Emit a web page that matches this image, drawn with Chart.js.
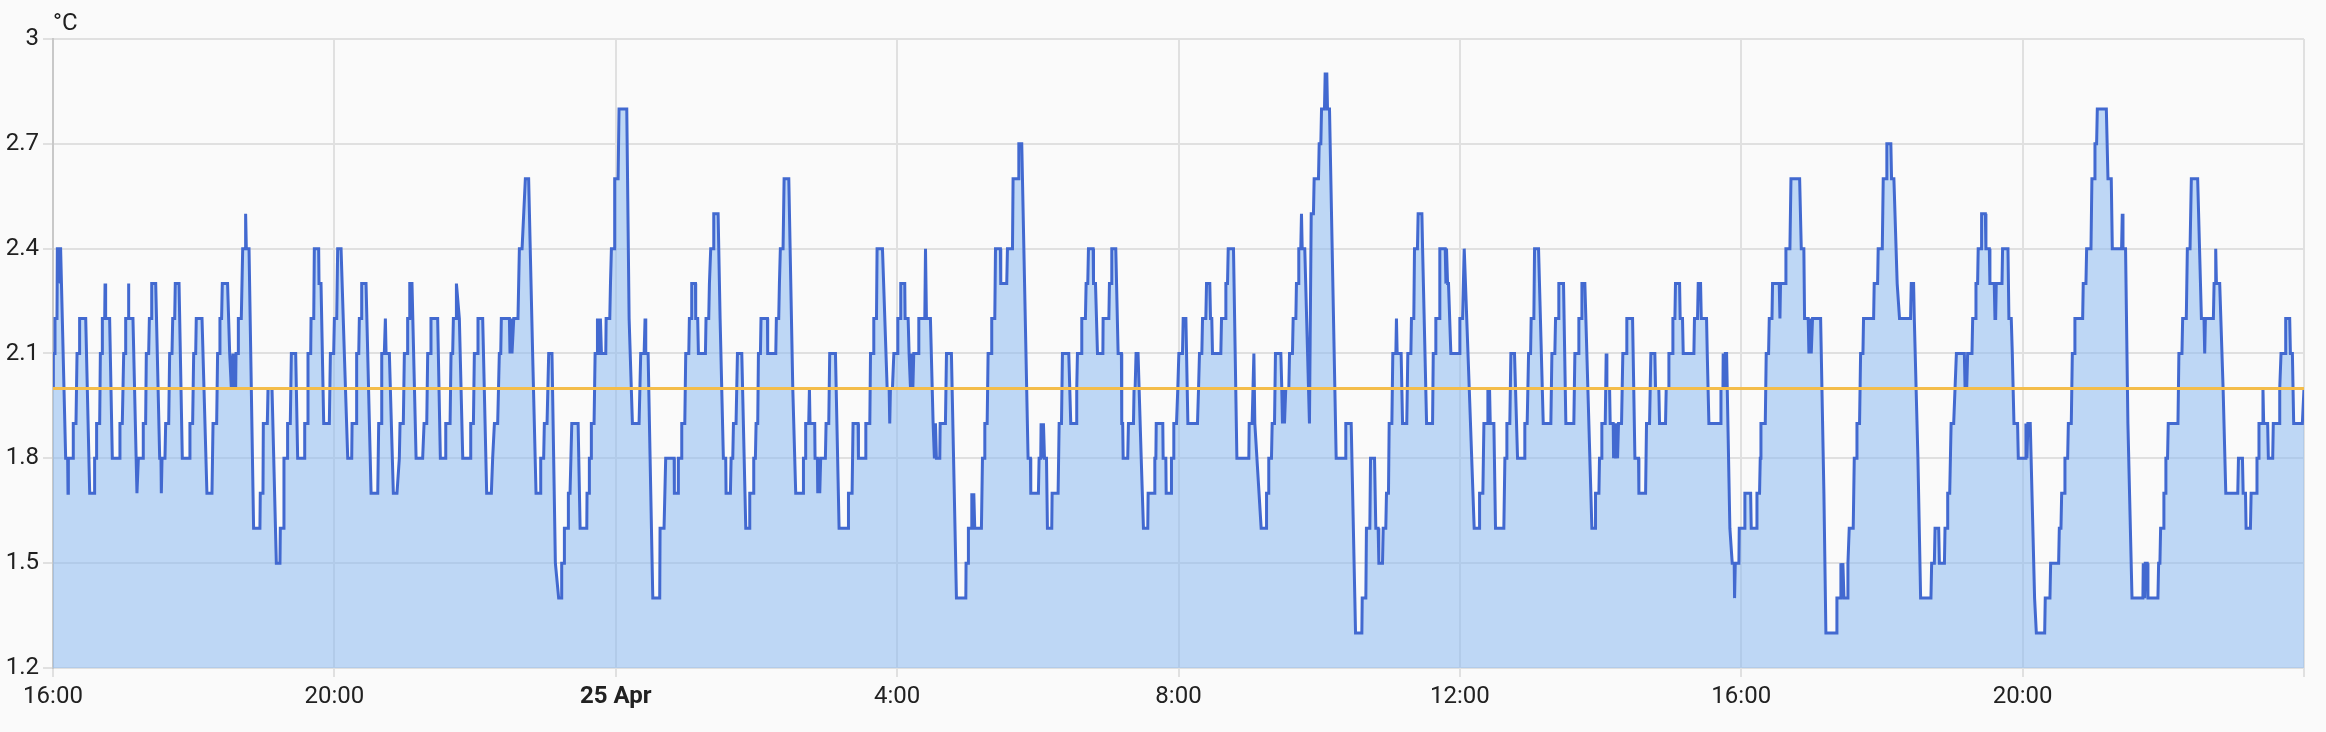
<!DOCTYPE html>
<html>
<head>
<meta charset="utf-8">
<title>Temperature history</title>
<script src="https://cdn.jsdelivr.net/npm/chart.js@4.4.1/dist/chart.umd.min.js"></script>
<style>
  html, body { margin: 0; padding: 0; background: #fafafa; }
  #wrap { width: 2326px; height: 732px; position: relative; }
</style>
</head>
<body>
<div id="wrap"><canvas id="temp-chart"></canvas></div>
<script>
// minutes since 24 Apr 16:00
const times = [
  0,0.3,1.4,1.7,3.4,3.7,4.5,4.8,5.1,6.5,10.8,12.5,12.8,13.1,17.1,17.3,19.6,20.5,22.2,22.7,27.9,31.3,35.3,35.5,37.0,37.2,39.8,40.4,41.8,42.1,
  44.1,44.4,44.9,48.3,50.6,56.9,57.1,59.1,60.3,61.7,62.0,64.0,64.3,64.8,68.2,71.6,72.8,76.8,77.0,79.0,79.6,81.6,82.2,83.6,84.2,87.6,91.0,92.1,92.4,93.0,
  95.5,96.1,98.7,99.5,101.5,102.1,103.8,104.3,107.5,110.3,116.6,116.8,119.1,120.0,121.7,122.2,127.1,131.3,135.6,136.5,139.6,140.4,141.9,142.4,143.8,144.4,148.9,150.7,152.1,153.5,
  154.4,155.8,156.1,157.8,158.1,160.6,161.8,163.8,164.3,164.9,167.2,171.1,176.5,176.8,179.1,179.4,182.8,183.4,186.8,190.5,193.6,193.9,196.2,197.0,199.6,200.1,202.4,203.3,207.0,
  208.7,214.4,214.7,217.0,217.5,219.8,220.1,222.4,222.9,226.6,226.9,228.6,230.9,235.7,236.6,239.4,240.0,242.0,242.8,245.7,248.5,251.4,254.8,255.1,258.5,259.0,260.8,261.3,263.0,263.3,
  267.0,271.3,277.0,277.8,279.8,280.4,282.6,283.5,284.1,286.9,290.3,293.4,295.4,296.0,298.8,299.7,302.0,302.5,304.0,304.3,306.2,309.7,315.3,316.5,318.8,319.6,321.9,322.4,328.1,330.4,
  334.7,335.0,338.7,339.5,340.9,341.5,343.8,344.1,346.6,349.5,355.7,356.3,358.6,359.4,362.0,362.5,366.5,369.9,373.9,375.0,376.5,379.3,380.7,381.9,382.4,389.3,389.8,391.0,391.5,393.0,
  396.6,397.8,400.1,402.9,405.7,409.1,412.0,415.4,416.0,418.5,419.1,421.4,422.8,425.6,428.5,431.3,
  433.6,433.9,435.9,436.2,439.3,439.6,441.0,442.5,447.9,449.6,455.3,455.5,457.3,457.5,459.0,459.2,461.5,462.4,464.1,464.4,464.9,465.5,466.4,466.9,467.8,471.5,471.8,474.9,475.5,476.3,
  478.6,479.1,482.0,482.8,489.4,491.4,494.2,499.9,501.3,504.2,505.0,505.6,507.6,509.3,511.6,517.5,517.8,521.2,522.6,529.8,530.0,533.2,533.4,535.7,536.3,538.9,539.7,542.3,542.8,544.5,
  544.8,548.0,548.2,549.9,550.5,556.5,557.0,559.3,559.9,561.0,563.0,563.6,567.3,569.0,571.8,573.8,574.1,577.8,578.4,579.8,580.4,582.6,583.8,587.5,590.9,594.0,594.3,597.1,597.7,599.1,
  599.7,601.1,601.7,603.4,603.9,609.4,609.6,616.5,617.0,619.0,619.6,620.4,622.7,623.6,627.6,631.0,633.5,639.8,640.1,641.8,642.0,644.6,645.2,645.7,649.7,650.0,652.0,652.3,653.1,654.0,
  654.8,658.8,659.4,661.7,662.5,667.4,670.5,678.2,678.5,681.6,682.4,
  686.7,687.0,693.0,693.3,696.7,697.3,699.5,700.1,702.4,702.9,707.5,711.5,713.2,713.7,714.3,716.0,717.2,720.0,720.6,722.8,723.1,726.5,726.8,729.4,730.2,731.4,732.5,733.4,734.2,737.9,
  738.5,743.6,744.2,745.0,748.4,750.7,751.8,752.7,753.5,756.4,756.7,761.2,762.1,766.3,770.6,778.6,778.8,780.6,780.8,783.4,783.7,784.5,785.4,786.2,791.9,792.8,794.5,794.8,796.8,797.6,
  800.2,800.7,803.3,803.9,808.1,808.4,813.5,814.1,818.4,818.9,823.2,823.8,826.3,826.9,831.7,833.7,834.0,840.5,841.1,842.5,842.8,844.0,844.8,845.7,847.4,848.2,851.9,852.2,857.3,858.2,
  860.2,861.0,866.4,868.1,873.0,873.2,873.8,876.9,877.5,880.6,881.2,882.6,883.2,887.2,887.5,889.2,890.9,895.5,895.7,900.6,901.1,902.5,903.1,906.5,908.5,911.3,911.6,912.4,912.8,916.7,
  917.3,921.6,922.1,923.0,923.8,925.5,
  928.2,930.1,933.8,934.1,939.2,939.8,940.7,941.0,946.6,946.9,949.2,949.5,953.7,954.0,955.5,956.0,958.3,959.4,960.3,963.4,964.0,966.3,968.0,976.2,977.1,977.9,979.9,980.5,983.3,983.9,
  986.7,987.3,988.4,989.0,996.1,996.7,999.8,1000.4,1001.8,1002.4,1006.9,1009.8,1020.0,1020.3,1022.8,1024.3,1025.1,1030.5,1034.8,1035.1,1036.5,1037.0,1039.3,1039.9,1041.9,1042.7,1047.3,1048.1,1048.7,1049.6,
  1050.4,1051.5,1054.1,1054.7,1057.2,1057.8,1060.1,1060.6,1062.1,1062.6,1064.3,1064.9,1065.5,1067.7,1071.7,1073.2,1075.1,1075.7,1079.4,1080.0,1081.4,1082.0,1084.5,1085.1,1086.5,1087.1,1088.8,1094.5,1102.2,1102.7,
  1107.3,1110.4,1111.0,1116.4,1116.7,1119.8,1120.3,1123.2,1123.8,1127.2,1128.3,1130.3,1130.9,1134.0,1134.6,1136.8,1137.4,1139.1,1139.7,1142.0,1142.8,1145.4,1145.9,1146.5,1149.9,1151.1,1154.7,1155.6,1158.2,1158.7,
  1160.7,1161.3,1163.8,1164.4,
  1167.6,1168.2,1171.6,1176.7,1177.3,1179.0,1179.5,1182.4,1182.9,1187.5,1188.1,1188.6,1189.5,1190.3,1192.3,1199.4,1200.0,1202.3,1203.7,1208.0,1212.2,1216.5,1216.8,1219.6,1220.5,1223.3,1223.9,1225.3,1225.9,1229.0,
  1230.4,1237.5,1238.4,1239.8,1240.1,1242.6,1243.5,1246.6,1249.2,1254.9,1255.4,1257.4,1258.6,1260.3,1260.8,1263.1,1263.7,1267.1,1271.1,1277.6,1278.5,1281.0,1281.6,1283.9,1284.4,1288.4,1290.4,1297.2,1298.1,1300.9,
  1301.5,1303.5,1304.1,1306.6,1312.6,1315.4,1315.7,1318.6,1319.1,1320.5,1321.1,1324.0,1324.8,1325.4,1327.7,1328.2,1330.8,1331.1,1331.9,1332.8,1333.6,1334.5,1335.3,1337.9,1339.0,1341.9,1342.4,1347.3,1349.3,1352.4,
  1352.7,1358.4,1359.2,1361.8,1362.9,1366.3,1366.9,1369.7,1370.3,1375.4,1376.0,1377.7,1378.3,1381.1,1381.7,1383.4,1383.9,1387.4,1387.9,1389.9,1390.5,1399.6,1400.1,1402.7,1403.3,
  1405.3,1405.9,1410.4,1411.0,1412.4,1422.4,1422.7,1424.4,1424.6,1425.5,1426.4,1427.5,1430.3,1432.3,1434.0,1434.3,1434.9,1438.0,1438.3,1442.6,1443.1,1448.0,1448.5,1452.8,1453.4,1455.6,1456.2,1456.8,1460.5,1461.3,
  1463.3,1463.9,1466.2,1466.7,1472.4,1473.0,1473.5,1477.5,1478.1,1481.5,1482.4,1489.8,1491.2,1493.4,1494.0,1497.1,1497.7,1498.9,1499.7,1500.8,1507.7,1510.5,1512.2,1521.0,1521.6,1524.4,1525.0,1525.9,1526.7,1527.6,
  1530.4,1531.0,1532.1,1535.5,1536.4,1538.1,1538.7,1540.9,1541.8,1543.8,1544.3,1552.9,1553.4,1556.3,1556.8,1560.3,1561.1,1563.7,1564.2,1567.6,1568.2,1570.2,1573.0,1575.0,1584.4,1585.0,1587.0,1587.6,1590.7,1593.0,
  1601.8,1602.4,1604.7,1605.3,1608.4,1609.0,1613.3,1613.8,1615.5,1616.1,1617.8,1618.4,1619.0,1621.2,1623.5,1630.3,1630.9,1632.3,1633.1,1636.8,1637.4,1639.6,1640.2,1641.6,1642.1,
  1644.7,1645.0,1648.2,1648.7,1651.6,1652.1,1655.8,1656.4,1657.0,1657.5,1662.4,1662.9,1667.5,1668.3,1670.3,1671.2,1672.6,1675.7,1676.3,1682.3,1682.8,1683.7,1684.5,1686.5,1690.2,1691.7,1698.8,1699.3,1703.3,1703.9,
  1710.7,1711.3,1712.7,1713.3,1715.5,1716.1,1718.4,1719.0,1721.5,1722.4,1724.1,1724.6,1731.2,1731.7,1734.0,1734.6,1738.3,1739.1,1741.1,1741.7,1743.1,1743.7,1751.4,1752.8,1755.6,1756.5,1764.4,1765.0,1765.6,1767.8,
  1769.8,1773.3,1782.6,1782.9,1784.1,1784.6,1786.3,1786.9,1795.4,1796.0,1797.1,1797.7,1800.0,1800.5,1801.7,1802.2,1803.6,1804.2,1812.5,1813.3,1815.9,1816.5,1819.6,1820.5,1822.8,1823.9,1829.3,1832.5,1834.7,1835.3,
  1835.9,1842.7,1843.3,1844.4,1844.7,1845.3,1848.1,1851.0,1853.3,1863.5,1864.1,1867.5,1868.1,1870.1,1870.6,1874.3,1874.9,
  1879.6,1879.9,1881.3,1881.6,1884.7,1885.0,1885.6,1889.0,1889.6,1893.3,1893.8,1898.7,1899.3,1900.4,1903.8,1904.4,1907.8,1908.4,1910.1,1911.2,1918.6,1920
];
const temps = [
  2.0,2.1,2.1,2.2,2.2,2.4,2.4,2.3,2.4,2.4,1.8,1.8,1.7,1.8,1.8,1.9,1.9,2.1,2.1,2.2,2.2,1.7,1.7,1.8,1.8,1.9,1.9,2.1,2.1,2.2,
  2.2,2.3,2.2,2.2,1.8,1.8,1.9,1.9,2.1,2.1,2.2,2.2,2.3,2.2,2.2,1.7,1.8,1.8,1.9,1.9,2.1,2.1,2.2,2.2,2.3,2.3,1.8,1.8,1.7,1.8,
  1.8,1.9,1.9,2.1,2.1,2.2,2.2,2.3,2.3,1.8,1.8,1.9,1.9,2.1,2.1,2.2,2.2,1.7,1.7,1.9,1.9,2.1,2.1,2.2,2.2,2.3,2.3,2.1,2.0,2.1,
  2.0,2.0,2.1,2.1,2.2,2.2,2.4,2.4,2.5,2.4,2.4,1.6,1.6,1.7,1.7,1.9,1.9,2.0,2.0,1.5,1.5,1.6,1.6,1.8,1.8,1.9,1.9,2.1,2.1,
  1.8,1.8,1.9,1.9,2.1,2.1,2.2,2.2,2.4,2.4,2.3,2.3,1.9,1.9,2.1,2.1,2.2,2.2,2.4,2.4,2.1,1.8,1.8,1.9,1.9,2.1,2.1,2.2,2.2,2.3,
  2.3,1.7,1.7,1.9,1.9,2.1,2.1,2.2,2.1,2.1,1.7,1.7,1.8,1.9,1.9,2.1,2.1,2.2,2.2,2.3,2.3,1.8,1.8,1.9,1.9,2.1,2.1,2.2,2.2,1.8,
  1.8,1.9,1.9,2.1,2.1,2.2,2.2,2.3,2.2,1.8,1.8,1.9,1.9,2.1,2.1,2.2,2.2,1.7,1.7,1.8,1.9,1.9,2.1,2.1,2.2,2.2,2.1,2.2,2.1,2.2,
  2.2,2.4,2.4,2.6,2.6,2.1,1.7,1.7,1.8,1.8,1.9,1.9,2.1,2.1,1.5,1.4,
  1.4,1.5,1.5,1.6,1.6,1.7,1.7,1.9,1.9,1.6,1.6,1.7,1.7,1.8,1.8,1.9,1.9,2.1,2.1,2.2,2.1,2.2,2.1,2.2,2.1,2.1,2.2,2.2,2.3,2.4,
  2.4,2.6,2.6,2.8,2.8,2.2,1.9,1.9,2.1,2.1,2.2,2.1,2.1,1.8,1.4,1.4,1.6,1.6,1.8,1.8,1.7,1.7,1.8,1.8,1.9,1.9,2.1,2.1,2.2,2.2,
  2.3,2.3,2.2,2.2,2.1,2.1,2.2,2.2,2.3,2.4,2.4,2.5,2.5,2.2,1.8,1.8,1.7,1.7,1.8,1.8,1.9,1.9,2.1,2.1,1.6,1.6,1.7,1.7,1.8,1.8,
  1.9,1.9,2.1,2.1,2.2,2.2,2.1,2.1,2.2,2.2,2.3,2.4,2.4,2.6,2.6,2.0,1.7,1.7,1.8,1.8,1.9,1.9,2.0,1.9,1.9,1.8,1.8,1.7,1.8,1.7,
  1.8,1.8,1.9,1.9,2.1,2.1,1.6,1.6,1.7,1.7,1.9,
  1.9,1.8,1.8,1.9,1.9,2.1,2.1,2.2,2.2,2.4,2.4,2.0,2.0,1.9,2.0,2.0,2.1,2.1,2.2,2.2,2.3,2.3,2.2,2.2,2.1,2.0,2.1,2.0,2.1,2.1,
  2.2,2.2,2.4,2.2,2.2,1.9,1.8,1.9,1.8,1.8,1.9,1.9,2.1,2.1,1.4,1.4,1.5,1.5,1.6,1.6,1.7,1.6,1.7,1.6,1.6,1.8,1.8,1.9,1.9,2.1,
  2.1,2.2,2.2,2.4,2.4,2.3,2.3,2.4,2.4,2.6,2.6,2.7,2.7,2.6,1.8,1.8,1.7,1.7,1.8,1.8,1.9,1.8,1.9,1.8,1.8,1.6,1.6,1.7,1.7,1.9,
  1.9,2.1,2.1,1.9,1.9,2.0,2.1,2.1,2.2,2.2,2.3,2.3,2.4,2.4,2.3,2.3,2.1,2.1,2.2,2.2,2.3,2.3,2.4,2.4,2.1,2.1,1.9,1.9,1.8,1.8,
  1.9,1.9,2.0,2.0,2.1,2.1,
  1.8,1.6,1.6,1.7,1.7,1.8,1.8,1.9,1.9,1.8,1.8,1.7,1.7,1.8,1.8,1.9,1.9,2.0,2.1,2.1,2.2,2.2,1.9,1.9,2.0,2.1,2.1,2.2,2.2,2.3,
  2.3,2.2,2.2,2.1,2.1,2.2,2.2,2.3,2.3,2.4,2.4,1.8,1.8,1.9,1.9,2.1,1.9,1.6,1.6,1.7,1.7,1.8,1.8,1.9,1.9,2.1,2.1,2.0,1.9,2.0,
  1.9,2.0,2.0,2.1,2.1,2.2,2.2,2.3,2.3,2.4,2.4,2.5,2.4,2.4,1.9,2.5,2.5,2.6,2.6,2.7,2.7,2.8,2.8,2.9,2.9,2.8,2.8,1.8,1.8,1.9,
  1.9,1.4,1.3,1.3,1.4,1.4,1.6,1.6,1.8,1.8,1.6,1.6,1.5,1.5,1.6,1.6,1.7,1.7,1.9,1.9,2.1,2.1,2.2,2.1,2.1,1.9,1.9,2.1,2.1,2.2,
  2.2,2.4,2.4,2.5,
  2.5,2.4,1.9,1.9,2.1,2.1,2.2,2.2,2.4,2.4,2.3,2.4,2.3,2.3,2.1,2.1,2.2,2.2,2.4,2.0,1.6,1.6,1.7,1.7,1.9,1.9,2.0,2.0,1.9,1.9,
  1.6,1.6,1.8,1.8,1.9,1.9,2.1,2.1,1.8,1.8,1.9,1.9,2.1,2.1,2.2,2.2,2.4,2.4,1.9,1.9,2.1,2.1,2.2,2.2,2.3,2.3,1.9,1.9,2.1,2.1,
  2.2,2.2,2.3,2.3,1.6,1.6,1.7,1.7,1.8,1.8,1.9,1.9,2.1,2.0,2.0,1.9,1.9,1.8,1.9,1.8,1.9,1.8,1.9,1.9,2.1,2.1,2.2,2.2,1.8,1.8,
  1.7,1.7,1.9,1.9,2.1,2.1,2.0,2.0,1.9,1.9,2.0,2.0,2.1,2.1,2.2,2.2,2.3,2.3,2.2,2.2,2.1,2.1,2.2,2.2,2.3,
  2.3,2.2,2.2,2.1,1.9,1.9,2.0,2.0,2.1,2.0,2.1,2.1,1.6,1.5,1.5,1.4,1.5,1.5,1.6,1.6,1.7,1.7,1.6,1.6,1.7,1.7,1.8,1.9,1.9,2.1,
  2.1,2.2,2.2,2.3,2.3,2.2,2.3,2.3,2.4,2.4,2.6,2.6,2.4,2.4,2.2,2.2,2.1,2.2,2.1,2.2,2.2,1.7,1.3,1.3,1.4,1.4,1.5,1.4,1.5,1.4,
  1.4,1.5,1.6,1.6,1.8,1.8,1.9,1.9,2.1,2.1,2.2,2.2,2.3,2.3,2.4,2.4,2.6,2.6,2.7,2.7,2.6,2.6,2.3,2.2,2.2,2.3,2.3,2.2,1.8,1.4,
  1.4,1.5,1.5,1.6,1.6,1.5,1.5,1.6,1.6,1.7,1.7,1.8,1.9,1.9,2.1,2.1,2.0,2.0,2.1,2.1,2.2,2.2,2.3,2.3,2.4,
  2.4,2.5,2.5,2.4,2.4,2.3,2.3,2.2,2.2,2.3,2.3,2.4,2.4,2.2,2.2,2.1,1.9,1.9,1.8,1.8,1.9,1.8,1.9,1.9,1.4,1.3,1.3,1.4,1.4,1.5,
  1.5,1.6,1.6,1.7,1.7,1.8,1.8,1.9,1.9,2.1,2.1,2.2,2.2,2.3,2.3,2.4,2.4,2.6,2.6,2.7,2.7,2.8,2.8,2.6,2.6,2.4,2.4,2.5,2.4,2.4,
  1.9,1.4,1.4,1.5,1.4,1.5,1.5,1.4,1.4,1.5,1.5,1.6,1.6,1.7,1.7,1.8,1.8,1.9,1.9,2.1,2.1,2.2,2.2,2.4,2.4,2.6,2.6,2.2,2.2,2.1,
  2.2,2.2,2.3,2.3,2.4,2.3,2.3,2.0,1.7,1.7,1.8,1.8,1.7,1.7,1.6,1.6,1.7,
  1.7,1.8,1.8,1.9,1.9,2.0,1.9,1.9,1.8,1.8,1.9,1.9,2.0,2.1,2.1,2.2,2.2,2.1,2.1,1.9,1.9,2.0
];
const targetTemp = 2.0;
const xStart = 0;
const xEnd = 1920;
const tickMinutes = [0, 240, 480, 720, 960, 1200, 1440, 1680];
const tickText = ['16:00', '20:00', '25 Apr', '4:00', '8:00', '12:00', '16:00', '20:00'];
const yTicks = [1.2, 1.5, 1.8, 2.1, 2.4, 2.7, 3];

console.log('points', times.length, temps.length);

const fontFamily = 'Roboto, "Noto Sans", sans-serif';
const textColor = '#212121';
const gridColor = '#e0e0e0';

const unitLabel = {
    id: 'unitLabel',
    afterDraw(chart) {
        const ctx = chart.ctx;
        const area = chart.chartArea;
        ctx.save();
        ctx.font = '24px ' + fontFamily;
        ctx.fillStyle = textColor;
        ctx.textAlign = 'left';
        ctx.textBaseline = 'alphabetic';
        ctx.fillText('°C', area.left, area.top - 9);
        ctx.restore();
    }
};

const ctx = document.getElementById('temp-chart');
new Chart(ctx, {
    type: 'line',
    data: {
        datasets: [
            {
                label: 'Target',
                data: [{x: xStart, y: targetTemp}, {x: xEnd, y: targetTemp}],
                borderColor: '#f4bd4a',
                borderWidth: 3,
                pointRadius: 0,
                fill: false
            },
            {
                label: 'Temperature',
                data: times.map((t, i) => ({x: t, y: temps[i]})),
                borderColor: '#4269d0',
                backgroundColor: 'rgba(140,185,240,0.55)',
                borderWidth: 3,
                pointRadius: 0,
                tension: 0,
                fill: 'start'
            }
        ]
    },
    options: {
        responsive: true,
        maintainAspectRatio: false,
        devicePixelRatio: 1,
        animation: false,
        layout: {padding: {top: 39, right: 22, left: 0, bottom: 0}},
        plugins: {legend: {display: false}, tooltip: {enabled: false}},
        scales: {
            x: {
                type: 'linear',
                min: xStart,
                max: xEnd,
                afterFit: (scale) => { scale.height = 64; },
                afterBuildTicks: (scale) => {
                    scale.ticks = tickMinutes.concat([xEnd]).map(v => ({value: v}));
                },
                ticks: {
                    autoSkip: false,
                    maxRotation: 0,
                    padding: 6,
                    color: textColor,
                    font: (c) => ({
                        family: fontFamily,
                        size: 24,
                        weight: (c.tick && c.tick.value === 480) ? 'bold' : 'normal'
                    }),
                    callback: (value) => {
                        const i = tickMinutes.indexOf(value);
                        return i >= 0 ? tickText[i] : '';
                    }
                },
                grid: {color: gridColor, lineWidth: 2, tickLength: 9},
                border: {display: false}
            },
            y: {
                min: 1.2,
                max: 3,
                afterFit: (scale) => { scale.width = 53; },
                afterBuildTicks: (scale) => {
                    scale.ticks = yTicks.map(v => ({value: v}));
                },
                ticks: {
                    padding: 4,
                    color: textColor,
                    font: {family: fontFamily, size: 24},
                    callback: (value) => String(value)
                },
                grid: {color: gridColor, lineWidth: 2, tickLength: 10},
                border: {color: '#c8c8c8', width: 2}
            }
        }
    },
    plugins: [unitLabel]
});
</script>
</body>
</html>
